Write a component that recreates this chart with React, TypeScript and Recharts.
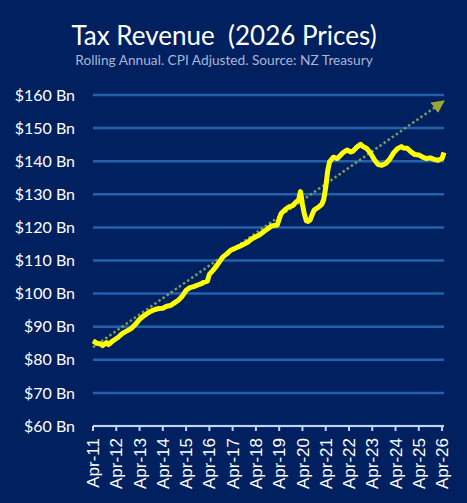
import React from "react";
import { LineChart, Line, XAxis, YAxis, CartesianGrid } from "recharts";

// month index from Apr-11 (0) and rolling annual tax revenue ($Bn, 2026 prices)
const months = [
  0, 2, 4, 5, 7, 8, 10, 13, 15, 18, 20, 22, 24, 26, 28, 30, 32, 34, 36, 38, 40,
  42, 44, 46, 48, 50, 52, 54, 56, 57, 59, 60, 62, 64, 67, 69, 71, 73, 76, 78,
  80, 82, 84, 86, 88, 90, 92, 95, 96, 97, 99, 101, 103, 105, 106, 107, 108,
  109, 110, 111, 112, 113, 114, 116, 118, 119, 120, 121, 122, 124, 126, 128,
  129, 131, 133, 134, 136, 138, 139, 141, 143, 145, 147, 149, 151, 153, 155,
  157, 159, 160, 162, 164, 166, 168, 170, 172, 174, 176, 178, 180, 181,
];
const revenue = [
  85.7, 85.0, 84.8, 84.3, 85.2, 84.6, 85.6, 86.8, 87.9, 88.9, 89.6, 90.8, 92.2,
  93.2, 94.0, 94.7, 95.2, 95.5, 95.6, 96.2, 96.4, 97.2, 98.0, 99.2, 101.0,
  101.8, 102.1, 102.6, 103.0, 103.4, 103.8, 105.8, 107.1, 108.6, 111.1, 112.0,
  113.1, 113.6, 114.4, 115.0, 115.6, 116.6, 117.2, 117.8, 118.7, 119.5, 120.4,
  120.7, 122.5, 124.2, 125.3, 126.2, 126.6, 127.8, 128.2, 130.8, 127.0, 124.0,
  122.0, 121.8, 122.3, 123.8, 125.2, 126.0, 127.0, 128.5, 132.0, 137.0, 139.8,
  141.2, 140.8, 142.0, 142.6, 143.4, 142.8, 143.0, 144.2, 145.1, 144.5, 143.9,
  142.6, 140.5, 139.0, 138.8, 139.3, 140.6, 142.5, 143.8, 144.4, 144.0, 143.9,
  142.8, 142.0, 141.9, 141.2, 140.8, 141.0, 140.5, 140.3, 140.8, 142.6,
];

// dotted trend arrow: start and end
const trendMonths = [0, 181];
const trendValues = [83.8, 158.2];

const tickLabels = [
  "Apr-11", "Apr-12", "Apr-13", "Apr-14", "Apr-15", "Apr-16", "Apr-17", "Apr-18",
  "Apr-19", "Apr-20", "Apr-21", "Apr-22", "Apr-23", "Apr-24", "Apr-25", "Apr-26",
];
const yTicks = [60, 70, 80, 90, 100, 110, 120, 130, 140, 150, 160];

const data = months.map((m, i) => ({ m, revenue: revenue[i] }));
const trend = trendMonths.map((m, i) => ({ m, trend: trendValues[i] }));
const xTicks = tickLabels.map((_, i) => i * 12);

const XTick = (props: any) => {
  const { x, y, payload } = props;
  return (
    <text
      x={x}
      y={y}
      transform={`rotate(-90, ${x}, ${y})`}
      textAnchor="end"
      dy="0.36em"
      fill="#ffffff"
      fontSize={17}
      fontFamily="Liberation Sans, Arial, sans-serif"
    >
      {tickLabels[payload.value / 12]}
    </text>
  );
};

export default function App() {
  return (
    <div
      style={{
        position: "fixed",
        top: 0,
        left: 0,
        width: 467,
        height: 503,
        background: "#002060",
        fontFamily: "Lato, sans-serif",
      }}
    >
      <div
        style={{
          position: "absolute",
          left: 0,
          width: 448,
          top: 20,
          textAlign: "center",
          color: "#ffffff",
          fontSize: 26,
          lineHeight: "30px",
          whiteSpace: "pre",
        }}
      >
        {"Tax Revenue  (2026 Prices)"}
      </div>
      <div
        style={{
          position: "absolute",
          left: 0,
          width: 448,
          top: 52,
          textAlign: "center",
          color: "#a9b6d6",
          fontSize: 13.7,
          lineHeight: "16px",
        }}
      >
        Rolling Annual. CPI Adjusted. Source: NZ Treasury
      </div>
      <LineChart
        width={467}
        height={503}
        data={data}
        margin={{ top: 95, right: 23, bottom: 7, left: 8 }}
        style={{ position: "absolute", top: 0, left: 0 }}
      >
        <defs>
          <marker
            id="trendArrow"
            viewBox="0 0 12 12"
            refX={11}
            refY={6}
            markerWidth={13}
            markerHeight={13}
            markerUnits="userSpaceOnUse"
            orient="auto"
          >
            <path d="M0,0 L12,6 L0,12 Z" fill="#9aa830" />
          </marker>
        </defs>
        <CartesianGrid
          horizontal
          vertical={false}
          stroke="#2262ad"
          strokeWidth={2.5}
          strokeOpacity={1}
        />
        <XAxis
          dataKey="m"
          type="number"
          domain={[0, 181]}
          ticks={xTicks}
          interval={0}
          height={70}
          tick={<XTick />}
          tickSize={5}
          tickMargin={7}
          stroke="#c9d2ea"
          strokeWidth={2}
          tickLine={{ stroke: "#c9d2ea", strokeWidth: 2 }}
        />
        <YAxis
          type="number"
          domain={[60, 160]}
          ticks={yTicks}
          interval={0}
          width={85}
          axisLine={false}
          tickLine={false}
          tickSize={0}
          tickMargin={18}
          tickFormatter={(v: number) => `$${v} Bn`}
          tick={{ fill: "#ffffff", fontSize: 16, fontFamily: "Lato, sans-serif" }}
        />
        <Line
          data={trend}
          dataKey="trend"
          type="linear"
          stroke="#7d9a5c"
          strokeWidth={2.5}
          strokeDasharray="2.5 2.5"
          dot={false}
          activeDot={false}
          markerEnd="url(#trendArrow)"
          isAnimationActive={false}
        />
        <Line
          dataKey="revenue"
          type="linear"
          stroke="#ffff00"
          strokeWidth={5}
          strokeLinejoin="round"
          dot={false}
          activeDot={false}
          isAnimationActive={false}
        />
      </LineChart>
    </div>
  );
}
